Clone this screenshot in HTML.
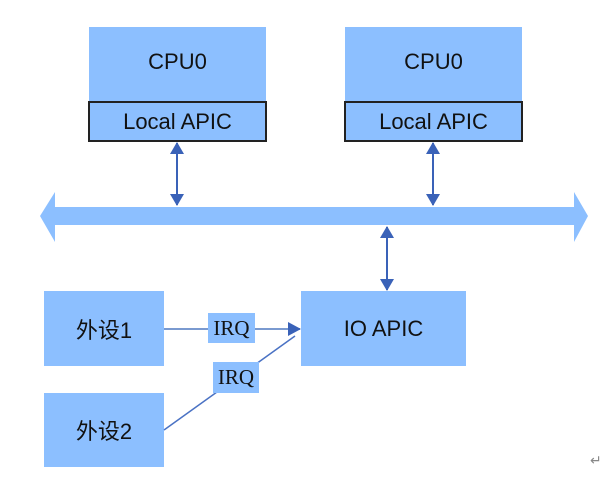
<!DOCTYPE html>
<html><head><style>
body{margin:0;background:#fff;width:602px;height:478px;overflow:hidden;position:relative;font-family:"Liberation Sans","Noto Sans CJK SC",sans-serif}
.b{position:absolute;background:#8cbfff;color:#111;display:flex;align-items:center;justify-content:center;font-size:22px}
.l{position:absolute;background:#8cbfff;border:2px solid #222;box-sizing:border-box;display:flex;align-items:center;justify-content:center;font-size:22px;color:#111}
.q{position:absolute;background:#8cbfff;font-family:"Liberation Serif",serif;font-size:21px;color:#111;display:flex;align-items:center;justify-content:center}
</style></head><body>
<div class="b" style="left:89px;top:27px;width:177px;height:76px;padding-bottom:6px;box-sizing:border-box">CPU0</div>
<div class="l" style="left:88px;top:101px;width:179px;height:41px">Local APIC</div>
<div class="b" style="left:345px;top:27px;width:177px;height:76px;padding-bottom:6px;box-sizing:border-box">CPU0</div>
<div class="l" style="left:344px;top:101px;width:179px;height:41px">Local APIC</div>
<div class="b" style="left:301px;top:291px;width:165px;height:75px">IO APIC</div>
<div class="b" style="left:44px;top:291px;width:120px;height:75px">外设1</div>
<div class="b" style="left:44px;top:393px;width:120px;height:74px">外设2</div>
<svg width="602" height="478" style="position:absolute;left:0;top:0">
<defs><marker id="a" markerWidth="12" markerHeight="14" refX="11" refY="7" orient="auto-start-reverse" markerUnits="userSpaceOnUse"><path d="M0,0L12,7L0,14z" fill="#3a62b8"/></marker>
<marker id="c" markerWidth="14" markerHeight="14" refX="12" refY="7" orient="auto" markerUnits="userSpaceOnUse"><path d="M0,0L13,7L0,14z" fill="#3a62b8"/></marker></defs>
<path d="M40,216L55,192L55,207L574,207L574,192L588,216L574,242L574,225L55,225L55,242Z" fill="#8cbfff"/>
<line x1="177" y1="143" x2="177" y2="205" stroke="#3a62b8" stroke-width="2" marker-start="url(#a)" marker-end="url(#a)"/>
<line x1="433" y1="143" x2="433" y2="205" stroke="#3a62b8" stroke-width="2" marker-start="url(#a)" marker-end="url(#a)"/>
<line x1="387" y1="227" x2="387" y2="290" stroke="#3a62b8" stroke-width="2" marker-start="url(#a)" marker-end="url(#a)"/>
<line x1="164" y1="329" x2="300" y2="329" stroke="#7a9ad0" stroke-width="2" marker-end="url(#c)"/>
<line x1="164" y1="430" x2="295" y2="336" stroke="#4a72c4" stroke-width="1.5"/>
</svg>
<div class="q" style="left:208px;top:313px;width:47px;height:30px">IRQ</div>
<div class="q" style="left:213px;top:362px;width:46px;height:31px">IRQ</div>
<div style="position:absolute;left:590px;top:452px;font-size:14px;color:#888">↵</div>
</body></html>
